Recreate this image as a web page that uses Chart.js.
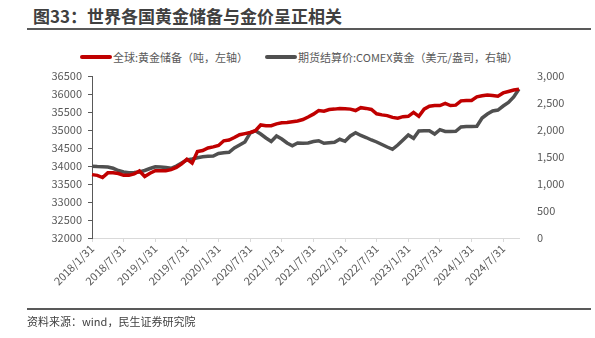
<!DOCTYPE html>
<html>
<head>
<meta charset="utf-8">
<script src="https://cdn.jsdelivr.net/npm/chart.js@4/dist/chart.umd.min.js"></script>
<style>
  html, body { margin: 0; padding: 0; background: #fff; }
  body { width: 595px; height: 338px; position: relative; overflow: hidden;
         font-family: "Noto Sans CJK SC", "Microsoft YaHei", sans-serif; }
  .title { position: absolute; left: 33px; top: 3px; font-size: 17px; font-weight: bold;
           color: #404040; white-space: nowrap; }
  .rule { position: absolute; left: 27px; width: 564px; height: 0; border-top: 2px solid #595959; }
  .legend { position: absolute; top: 49px; font-size: 11px; color: #595959; white-space: nowrap;
            display: flex; align-items: center; }
  .legend i { display: inline-block; width: 32px; height: 4px; margin-right: 1px; border-radius: 2px; }
  .source { position: absolute; left: 27px; top: 313px; font-size: 11px; color: #404040; }
  #wrap { position: absolute; left: 0; top: 0; width: 595px; height: 338px; }
</style>
</head>
<body>
<div class="title">图33：世界各国黄金储备与金价呈正相关</div>
<div class="rule" style="top:28px"></div>
<div class="legend" style="left:80px"><i style="background:#c00000"></i>全球:黄金储备（吨，左轴）</div>
<div class="legend" style="left:265px"><i style="background:#505050"></i>期货结算价:COMEX黄金（美元/盎司，右轴）</div>
<div id="wrap"><canvas id="goldChart"></canvas></div>
<div class="rule" style="top:308px"></div>
<div class="source">资料来源：wind，民生证券研究院</div>

<script>
// month-end dates
const months = [
  '2018/1/31','2018/2/28','2018/3/31','2018/4/30','2018/5/31','2018/6/30','2018/7/31','2018/8/31','2018/9/30','2018/10/31','2018/11/30','2018/12/31',
  '2019/1/31','2019/2/28','2019/3/31','2019/4/30','2019/5/31','2019/6/30','2019/7/31','2019/8/31','2019/9/30','2019/10/31','2019/11/30','2019/12/31',
  '2020/1/31','2020/2/29','2020/3/31','2020/4/30','2020/5/31','2020/6/30','2020/7/31','2020/8/31','2020/9/30','2020/10/31','2020/11/30','2020/12/31',
  '2021/1/31','2021/2/28','2021/3/31','2021/4/30','2021/5/31','2021/6/30','2021/7/31','2021/8/31','2021/9/30','2021/10/31','2021/11/30','2021/12/31',
  '2022/1/31','2022/2/28','2022/3/31','2022/4/30','2022/5/31','2022/6/30','2022/7/31','2022/8/31','2022/9/30','2022/10/31','2022/11/30','2022/12/31',
  '2023/1/31','2023/2/28','2023/3/31','2023/4/30','2023/5/31','2023/6/30','2023/7/31','2023/8/31','2023/9/30','2023/10/31','2023/11/30','2023/12/31',
  '2024/1/31','2024/2/29','2024/3/31','2024/4/30','2024/5/31','2024/6/30','2024/7/31','2024/8/31','2024/9/30','2024/10/31'
];

// 全球黄金储备（吨）
const reserves = [
  33760, 33740, 33680, 33810, 33810, 33790, 33740, 33740, 33780, 33860, 33710, 33800,
  33870, 33870, 33870, 33900, 33960, 34060, 34190, 34080, 34400, 34430, 34500, 34530,
  34570, 34700, 34720, 34790, 34870, 34900, 34930, 34980, 35140, 35120, 35120, 35170,
  35200, 35210, 35230, 35250, 35290, 35360, 35440, 35540, 35520, 35570, 35580, 35600,
  35590, 35580, 35540, 35620, 35600, 35570, 35450, 35420, 35400, 35350, 35330, 35370,
  35380, 35490, 35380, 35580, 35660, 35680, 35680, 35740, 35680, 35690, 35810, 35820,
  35820, 35920, 35950, 35970, 35960, 35940, 36030, 36070, 36110, 36130
];

// COMEX 黄金结算价（美元/盎司）
const comexGold = [
  1330, 1322, 1320, 1315, 1291, 1250, 1222, 1209, 1213, 1222, 1250, 1287,
  1320, 1315, 1305, 1291, 1333, 1389, 1444, 1463, 1487, 1505, 1513, 1518,
  1565, 1580, 1587, 1667, 1722, 1778, 1944, 1987, 1926, 1852, 1787, 1889,
  1833, 1759, 1709, 1760, 1756, 1759, 1787, 1802, 1754, 1763, 1772, 1828,
  1791, 1889, 1950, 1898, 1861, 1815, 1778, 1731, 1685, 1642, 1722, 1815,
  1907, 1846, 1981, 1987, 1987, 1926, 2006, 1972, 1972, 1976, 2056, 2065,
  2065, 2069, 2222, 2296, 2352, 2370, 2444, 2509, 2611, 2760
];

const tickFont = { family: '"Noto Sans CJK SC", sans-serif', size: 11 };
const axisGrey = '#595959';

new Chart(document.getElementById('goldChart').getContext('2d'), {
  type: 'line',
  data: {
    labels: months,
    datasets: [
      {
        label: '全球:黄金储备（吨，左轴）',
        data: reserves,
        yAxisID: 'yLeft',
        borderColor: '#c00000',
        borderWidth: 3.5,
        pointRadius: 0,
        tension: 0
      },
      {
        label: '期货结算价:COMEX黄金（美元/盎司，右轴）',
        data: comexGold,
        yAxisID: 'yRight',
        borderColor: '#505050',
        borderWidth: 3.5,
        pointRadius: 0,
        tension: 0
      }
    ]
  },
  options: {
    responsive: true,
    maintainAspectRatio: false,
    animation: false,
    layout: { padding: { top: 76, left: 0, right: 0, bottom: 0 } },
    plugins: {
      legend: { display: false },
      tooltip: { enabled: false }
    },
    scales: {
      x: {
        offset: false,
        grid: {
          drawOnChartArea: false,
          drawTicks: true,
          tickLength: 4,
          color: '#d9d9d9'
        },
        border: { color: '#d9d9d9', width: 1 },
        ticks: {
          autoSkip: false,
          minRotation: 45,
          maxRotation: 45,
          padding: 0,
          color: axisGrey,
          font: tickFont,
          callback: function (value, index) {
            return (index % 6 === 0 && index <= 78) ? this.getLabelForValue(value) : null;
          }
        },
        afterFit: s => { s.height = 100; }
      },
      yLeft: {
        position: 'left',
        min: 32000,
        max: 36500,
        grid: {
          drawOnChartArea: false,
          drawTicks: true,
          tickLength: 4,
          color: axisGrey
        },
        border: { color: axisGrey, width: 1 },
        ticks: {
          stepSize: 500,
          padding: 6,
          color: axisGrey,
          font: tickFont,
          callback: v => String(v)
        },
        afterFit: s => { s.width = 92; }
      },
      yRight: {
        position: 'right',
        min: 0,
        max: 3000,
        grid: { display: false },
        border: { display: false },
        ticks: {
          stepSize: 500,
          padding: 10,
          color: axisGrey,
          font: tickFont,
          callback: v => v.toLocaleString('en-US')
        },
        afterFit: s => { s.width = 76; }
      }
    }
  }
});
</script>
</body>
</html>
